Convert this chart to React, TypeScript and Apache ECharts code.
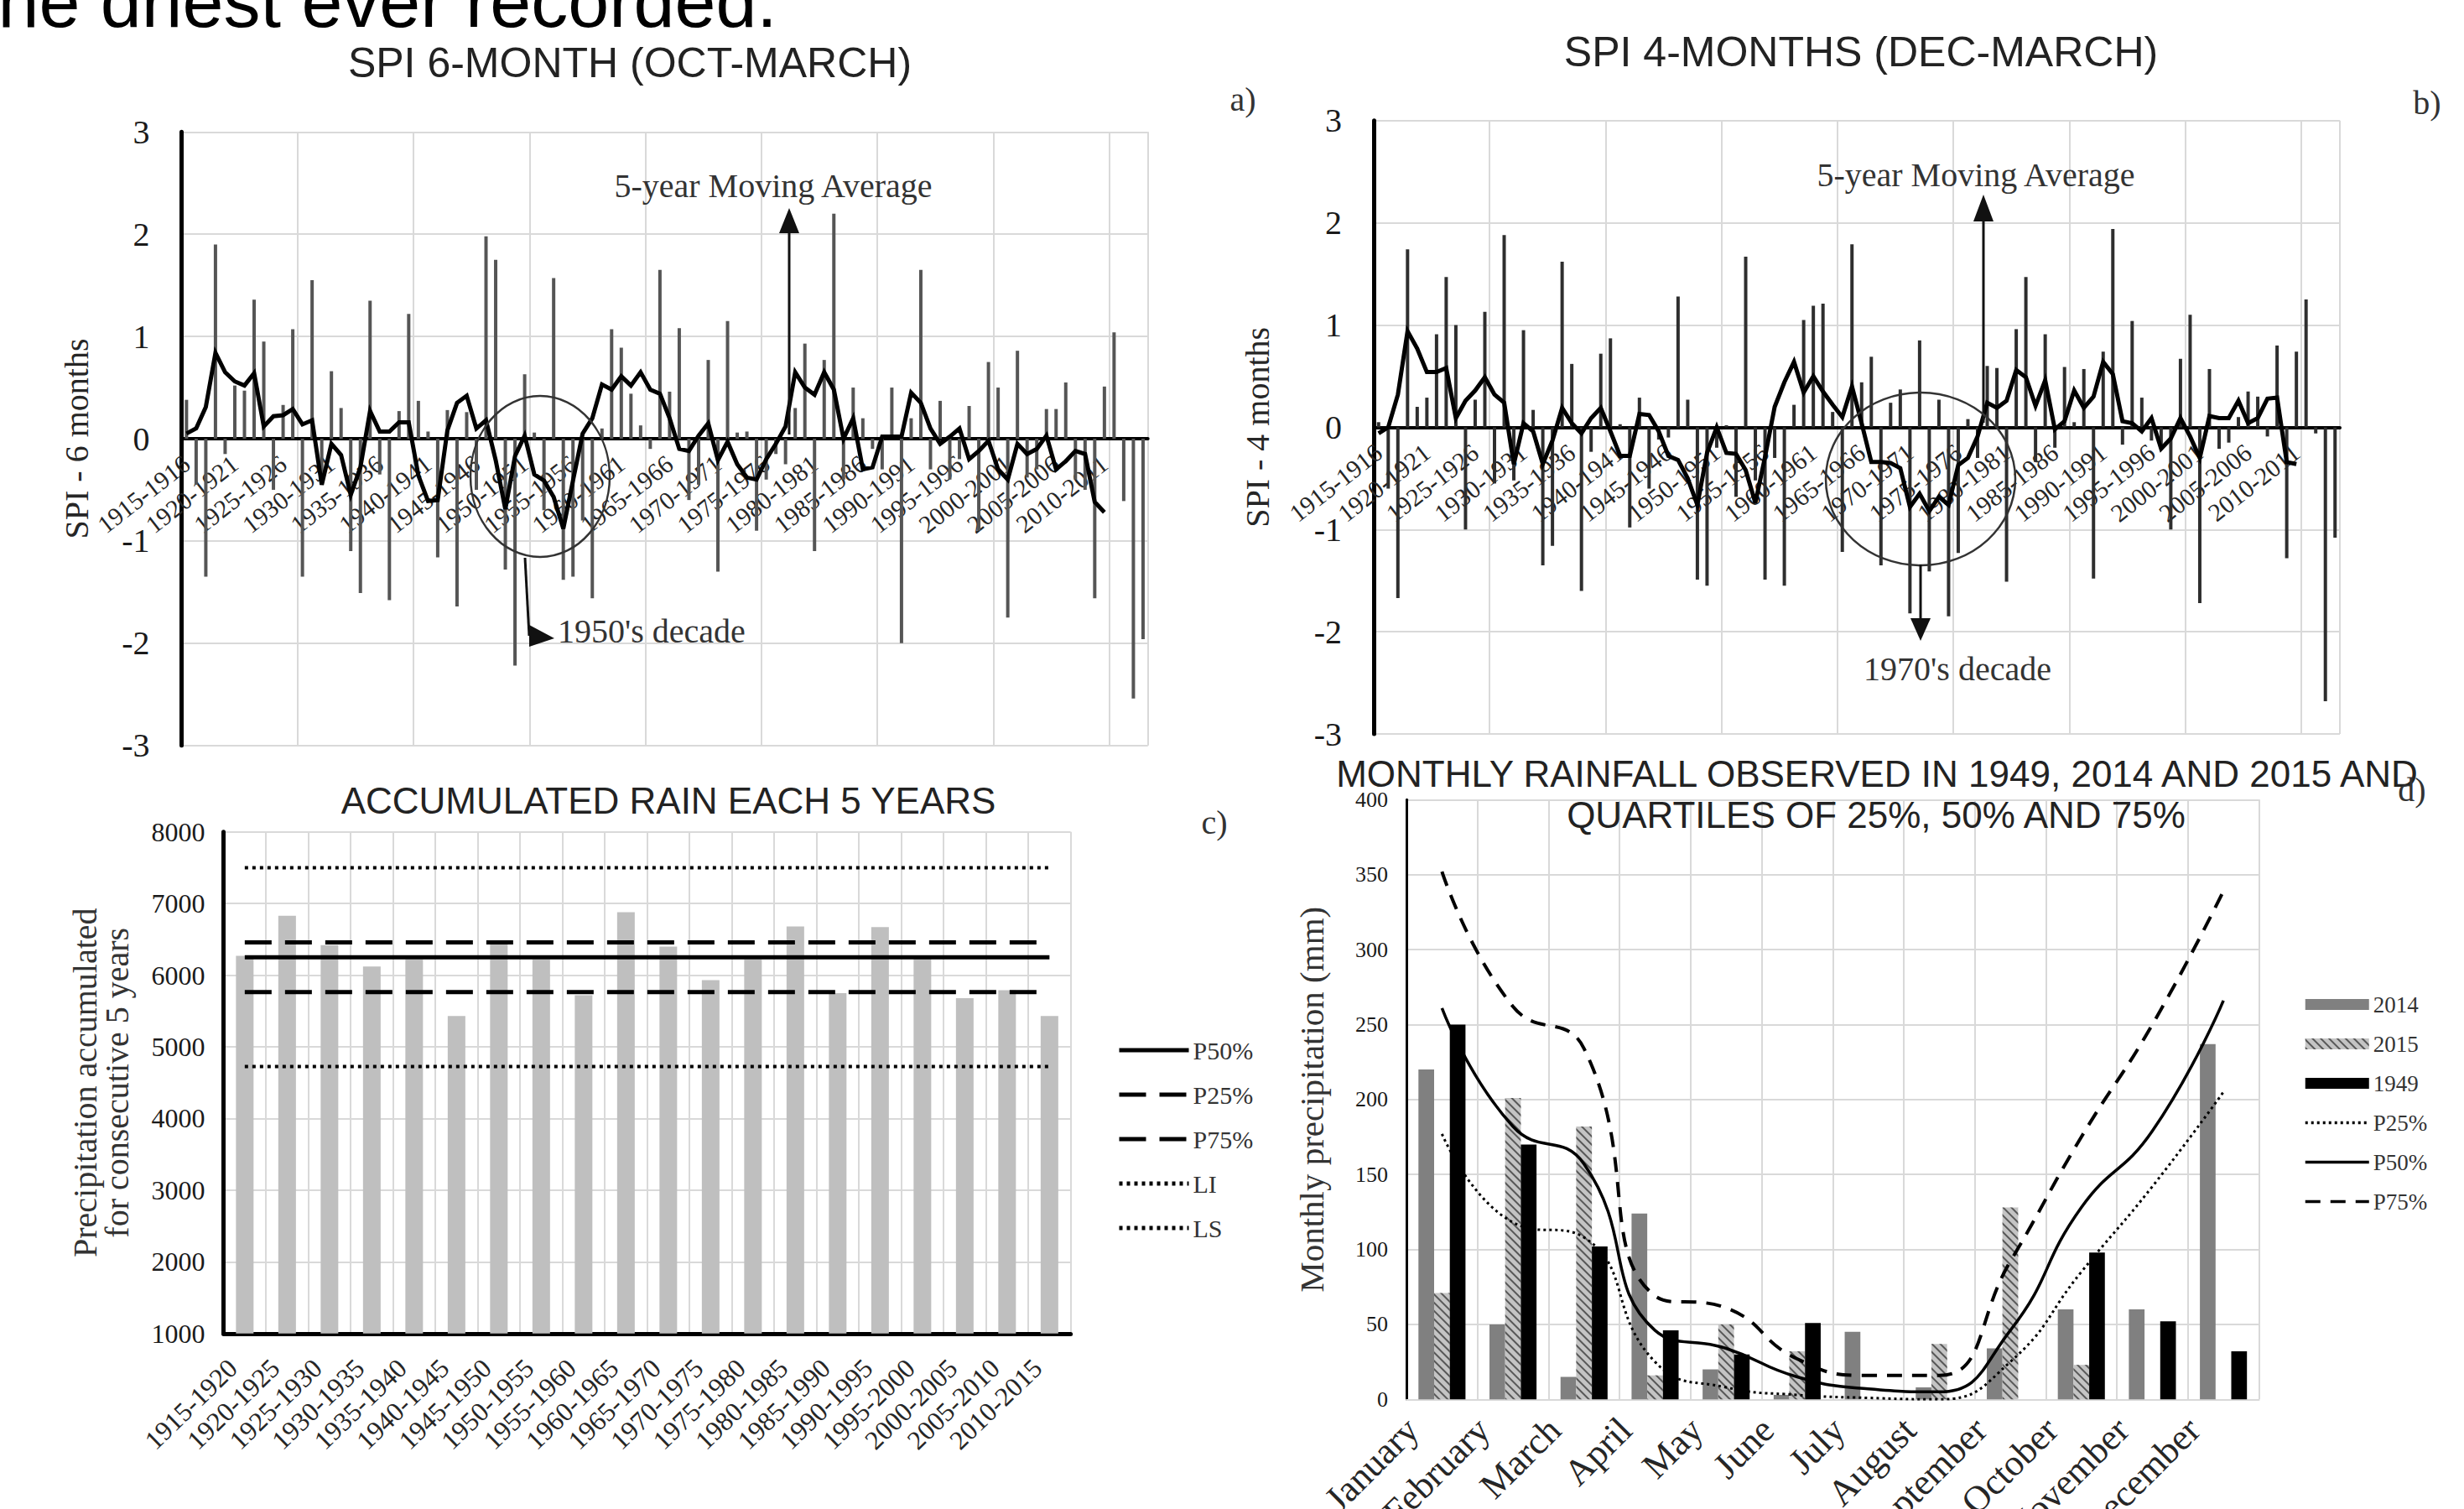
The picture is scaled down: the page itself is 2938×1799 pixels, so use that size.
import React, { useEffect, useRef } from "react";
import * as echarts from "echarts";

const SERIF = "'Liberation Serif', 'Times New Roman', serif";
const SANS = "'Liberation Sans', Arial, sans-serif";

// ---- Panel a / b : hydrological years 1915-1916 ... 2014-2015
const FIRST_YEAR = 1915;
const SEASON_COUNT = 100;
const SEASONS: string[] = Array.from({ length: SEASON_COUNT }, (_, i) => `${FIRST_YEAR + i}-${FIRST_YEAR + i + 1}`);

const SPI6 = [
  0.38, -0.45, -1.35, 1.9, -0.15, 0.52, 0.47, 1.36, 0.95, -0.5,
  0.33, 1.07, -1.35, 1.55, -0.45, 0.66, 0.3, -1.1, -1.51, 1.35,
  -0.35, -1.58, 0.27, 1.22, 0.37, 0.07, -1.16, 0.28, -1.64, 0.26,
  -0.5, 1.98, 1.75, -1.28, -2.22, 0.63, 0.06, -0.7, 1.57, -1.38,
  -1.35, -0.8, -1.56, 0.1, 1.07, 0.89, 0.44, 0.13, -0.1, 1.65,
  0.46, 1.08, -0.6, -0.45, 0.77, -1.3, 1.15, 0.06, 0.07, -0.9,
  -0.4, -0.15, -0.25, 0.3, 0.93, -1.1, 0.77, 2.2, -0.4, 0.5,
  0.2, -0.1, -0.3, 0.5, -2.0, 0.2, 1.65, -0.3, 0.37, -0.4,
  -0.2, 0.32, -0.9, 0.75, 0.5, -1.75, 0.86, -0.38, -0.3, 0.29,
  0.29, 0.55, -0.4, -0.5, -1.56, 0.51, 1.04, -0.61, -2.54, -1.96,
];

const SPI6_MA = [
  0.05, 0.1, 0.31, 0.84, 0.65, 0.56, 0.52, 0.64, 0.12, 0.22,
  0.23, 0.29, 0.14, 0.18, -0.45, -0.05, -0.16, -0.55, -0.28, 0.27,
  0.07, 0.07, 0.16, 0.16, -0.36, -0.61, -0.6, 0.08, 0.35, 0.42,
  0.1, 0.18, -0.21, -0.69, -0.17, 0.03, -0.35, -0.41, -0.57, -0.88,
  -0.41, 0.05, 0.2, 0.53, 0.48, 0.61, 0.52, 0.65, 0.48, 0.44,
  0.2, -0.1, -0.12, 0.03, 0.15, -0.21, -0.03, -0.25, -0.38, -0.4,
  -0.2, -0.05, 0.12, 0.65, 0.5, 0.43, 0.65, 0.48, 0.0, 0.2,
  -0.3, -0.28, 0.02, 0.02, 0.02, 0.45, 0.35, 0.1, -0.05, 0.02,
  0.1, -0.2, -0.12, -0.02, -0.3, -0.4, -0.05, -0.15, -0.1, 0.03,
  -0.3, -0.22, -0.12, -0.15, -0.62, -0.72,
];

const SPI4 = [
  0.05, -0.6, -1.67, 1.74, 0.2, 0.29, 0.91, 1.47, 1.0, -1.0,
  0.27, 1.13, -0.55, 1.88, -0.52, 0.95, 0.17, -1.35, -1.16, 1.62,
  0.62, -1.6, -0.24, 0.72, 0.87, 0.03, -0.98, 0.29, -0.6, -0.12,
  -0.1, 1.28, 0.27, -1.49, -1.55, -0.2, 0.02, -0.68, 1.67, -0.52,
  -1.49, -0.3, -1.55, 0.22, 1.05, 1.19, 1.21, 0.15, -1.22, 1.79,
  0.44, 0.69, -1.35, 0.24, 0.37, -1.82, 0.85, -1.41, 0.27, -1.85,
  -1.23, 0.08, -0.3, 0.6, 0.58, -1.51, 0.96, 1.47, -0.34, 0.91,
  -0.2, 0.59, 0.05, 0.57, -1.48, 0.74, 1.94, -0.17, 1.04, 0.29,
  -0.13, -0.2, -1.0, 0.67, 1.1, -1.72, 0.57, -0.21, -0.15, 0.1,
  0.35, 0.3, -0.09, 0.8, -1.28, 0.74, 1.25, -0.06, -2.68, -1.08,
];

const SPI4_MA = [
  -0.06, 0.0, 0.32, 0.94, 0.77, 0.54, 0.54, 0.58, 0.09, 0.26,
  0.36, 0.49, 0.32, 0.24, -0.36, 0.04, -0.04, -0.36, -0.13, 0.19,
  0.04, -0.06, 0.09, 0.19, -0.04, -0.28, -0.28, 0.13, 0.12, -0.04,
  -0.28, -0.32, -0.5, -0.76, -0.25, 0.0, -0.25, -0.26, -0.42, -0.74,
  -0.29, 0.2, 0.44, 0.64, 0.34, 0.5, 0.35, 0.22, 0.1, 0.4,
  0.04, -0.34, -0.34, -0.35, -0.4, -0.78, -0.65, -0.82, -0.68, -0.76,
  -0.37, -0.3, -0.09, 0.24, 0.19, 0.26, 0.56, 0.49, 0.21, 0.46,
  -0.02, 0.06, 0.36, 0.19, 0.3, 0.64, 0.52, 0.06, 0.04, -0.04,
  0.09, -0.21, -0.11, 0.09, -0.09, -0.3, 0.11, 0.09, 0.09, 0.26,
  0.04, 0.09, 0.28, 0.29, -0.34, -0.36,
];

// ---- Panel c
const PERIODS = [
  "1915-1920", "1920-1925", "1925-1930", "1930-1935", "1935-1940",
  "1940-1945", "1945-1950", "1950-1955", "1955-1960", "1960-1965",
  "1965-1970", "1970-1975", "1975-1980", "1980-1985", "1985-1990",
  "1990-1995", "1995-2000", "2000-2005", "2005-2010", "2010-2015",
];
const ACCUM = [
  6270, 6830, 6420, 6120, 6220, 5430, 6440, 6220, 5720, 6880,
  6400, 5930, 6220, 6680, 5750, 6670, 6250, 5680, 5790, 5430,
];
const ACC_P50 = 6250;
const ACC_P25 = 5765;
const ACC_P75 = 6456;
const ACC_LI = 4725;
const ACC_LS = 7500;

// ---- Panel d
const MONTHS = [
  "January", "February", "March", "April", "May", "June",
  "July", "August", "September", "October", "November", "December",
];
const R2014 = [220, 50, 15, 124, 20, 3, 45, 8, 34, 60, 60, 237];
const R2015 = [71, 201, 182, 16, 50, 32, 0, 37, 128, 23, 0, 0];
const R1949 = [250, 170, 102, 46, 30, 51, 0, 0, 0, 98, 52, 32];
const Q25 = [177, 118, 108, 25, 8, 3, 1, 0, 25, 85, 142, 205];
const Q50 = [261, 182, 157, 46, 34, 15, 7, 5, 46, 128, 179, 266];
const Q75 = [352, 262, 234, 69, 61, 27, 16, 16, 92, 175, 250, 339];

const GRID_LINE = { color: "#d9d9d9", width: 2 };
const LABEL_COLOR = "#262626";
const noComma = (v: number) => String(v);

function spiXAxis(gridIndex: number, zeroOffset: number) {
  return {
    type: "category",
    gridIndex,
    data: SEASONS,
    boundaryGap: true,
    position: "bottom",
    offset: zeroOffset,
    axisLine: { onZero: false, lineStyle: { color: "#000", width: 4 } },
    axisTick: { show: false },
    axisLabel: {
      interval: 4,
      rotate: 38,
      margin: 26,
      fontFamily: SERIF,
      fontSize: 30,
      color: LABEL_COLOR,
    },
    splitLine: {
      show: true,
      interval: (i: number) => i % 12 === 0,
      lineStyle: GRID_LINE,
    },
  };
}

function spiYAxis(gridIndex: number, name: string, nameGap: number) {
  return {
    type: "value",
    gridIndex,
    min: -3,
    max: 3,
    interval: 1,
    axisLine: { show: true, onZero: false, lineStyle: { color: "#000", width: 5 } },
    axisTick: { show: false },
    axisLabel: { fontFamily: SERIF, fontSize: 40, color: "#1a1a1a", margin: 38 },
    splitLine: { show: true, lineStyle: GRID_LINE },
    name,
    nameLocation: "middle",
    nameGap,
    nameTextStyle: { fontFamily: SERIF, fontSize: 40, color: LABEL_COLOR },
  };
}

function txt(text: string, x: number, y: number, size: number, family: string, align = "center", color = "#262626") {
  return {
    type: "text",
    x,
    y,
    z: 100,
    style: {
      text,
      fill: color,
      fontSize: size,
      fontFamily: family,
      align,
      verticalAlign: "middle",
    },
  };
}

function seg(x1: number, y1: number, x2: number, y2: number, w = 3) {
  return { type: "line", z: 100, shape: { x1, y1, x2, y2 }, style: { stroke: "#111", lineWidth: w } };
}

function tri(points: number[][]) {
  return { type: "polygon", z: 100, shape: { points }, style: { fill: "#111" } };
}

const lineLegendItem = (name: string) => ({ name, itemStyle: { opacity: 0 } });

function buildOption() {
  const flat = (v: number) => PERIODS.map(() => v);
  const gridBase = { containLabel: false, outerBoundsMode: "none" };
  return {
    animation: false,
    backgroundColor: "#ffffff",
    grid: [
      { ...gridBase, left: 216.6, top: 157.3, width: 1152.1, height: 731.4 },
      { ...gridBase, left: 1638, top: 143.8, width: 1152, height: 731.2 },
      { ...gridBase, left: 266.6, top: 991.7, width: 1010, height: 598.1 },
      { ...gridBase, left: 1677, top: 953.3, width: 1016.5, height: 715 },
    ],
    xAxis: [
      spiXAxis(0, -365.7),
      spiXAxis(1, -365.6),
      {
        type: "category",
        gridIndex: 2,
        data: PERIODS,
        axisLine: { onZero: false, lineStyle: { color: "#000", width: 5 } },
        axisTick: { show: false },
        axisLabel: { interval: 0, rotate: 44, margin: 22, padding: [0, 20, 0, 0], fontFamily: SERIF, fontSize: 32, color: LABEL_COLOR },
        splitLine: { show: true, interval: 0, lineStyle: GRID_LINE },
      },
      {
        type: "category",
        gridIndex: 3,
        data: MONTHS,
        axisLine: { onZero: false, lineStyle: { color: "#d9d9d9", width: 2 } },
        axisTick: { show: false },
        axisLabel: { interval: 0, rotate: 45, margin: -6, padding: [0, 50, 0, 0], fontFamily: SERIF, fontSize: 44, color: LABEL_COLOR },
        splitLine: { show: true, interval: 0, lineStyle: GRID_LINE },
      },
    ],
    yAxis: [
      spiYAxis(0, "SPI - 6 months", 105),
      spiYAxis(1, "SPI - 4 months", 119),
      {
        type: "value",
        gridIndex: 2,
        min: 1000,
        max: 8000,
        interval: 1000,
        axisLine: { show: true, lineStyle: { color: "#000", width: 5 } },
        axisTick: { show: false },
        axisLabel: { formatter: noComma, fontFamily: SERIF, fontSize: 32, color: "#1a1a1a", margin: 22 },
        splitLine: { show: true, lineStyle: GRID_LINE },
        name: "Precipitation accumulated\nfor consecutive 5 years",
        nameLocation: "middle",
        nameGap: 108,
        nameTextStyle: { fontFamily: SERIF, fontSize: 40, lineHeight: 38, color: "#333" },
      },
      {
        type: "value",
        gridIndex: 3,
        min: 0,
        max: 400,
        interval: 50,
        axisLine: { show: true, lineStyle: { color: "#000", width: 3 } },
        axisTick: { show: false },
        axisLabel: { formatter: noComma, fontFamily: SERIF, fontSize: 26, color: "#1a1a1a", margin: 22 },
        splitLine: { show: true, lineStyle: GRID_LINE },
        name: "Monthly precipitation (mm)",
        nameLocation: "middle",
        nameGap: 93,
        nameTextStyle: { fontFamily: SERIF, fontSize: 41, color: "#333" },
      },
    ],
    legend: [
      {
        data: ["P50%", "P25%", "P75%", "LI", "LS"].map(lineLegendItem),
        orient: "vertical",
        left: 1327,
        top: 1232,
        itemWidth: 83,
        itemHeight: 14,
        itemGap: 23,
        selectedMode: false,
        lineStyle: { width: 5 },
        textStyle: { fontFamily: SERIF, fontSize: 30, color: "#333" },
      },
      {
        data: [
          { name: "2014", icon: "rect" },
          { name: "2015", icon: "rect" },
          { name: "1949", icon: "rect" },
          lineLegendItem("P25% "),
          lineLegendItem("P50% "),
          lineLegendItem("P75% "),
        ],
        orient: "vertical",
        left: 2742,
        top: 1179,
        itemWidth: 76,
        itemHeight: 13,
        itemGap: 20,
        selectedMode: false,
        lineStyle: { width: 3.5 },
        textStyle: { fontFamily: SERIF, fontSize: 27, color: "#333" },
      },
    ],
    series: [
      // panel a
      { type: "bar", name: "SPI 6 months", xAxisIndex: 0, yAxisIndex: 0, data: SPI6, barWidth: 4, itemStyle: { color: "#555" }, z: 2 },
      {
        type: "line", name: "5-year Moving Average (SPI 6)", xAxisIndex: 0, yAxisIndex: 0, data: SPI6_MA,
        symbol: "none", itemStyle: { color: "#000" }, lineStyle: { color: "#000", width: 5, join: "miter" }, z: 3,
      },
      // panel b
      { type: "bar", name: "SPI 4 months", xAxisIndex: 1, yAxisIndex: 1, data: SPI4, barWidth: 4, itemStyle: { color: "#2e2e2e" }, z: 2 },
      {
        type: "line", name: "5-year Moving Average (SPI 4)", xAxisIndex: 1, yAxisIndex: 1, data: SPI4_MA,
        symbol: "none", itemStyle: { color: "#000" }, lineStyle: { color: "#000", width: 5, join: "miter" }, z: 3,
      },
      // panel c
      { type: "bar", name: "Accumulated 5 years", xAxisIndex: 2, yAxisIndex: 2, data: ACCUM, barWidth: 21, itemStyle: { color: "#bfbfbf" }, z: 2 },
      { type: "line", name: "P50%", xAxisIndex: 2, yAxisIndex: 2, data: flat(ACC_P50), symbol: "none", itemStyle: { color: "#000" }, lineStyle: { color: "#000", width: 5 }, z: 3 },
      { type: "line", name: "P25%", xAxisIndex: 2, yAxisIndex: 2, data: flat(ACC_P25), symbol: "none", itemStyle: { color: "#000" }, lineStyle: { color: "#000", width: 5, type: [32, 16] }, z: 3 },
      { type: "line", name: "P75%", xAxisIndex: 2, yAxisIndex: 2, data: flat(ACC_P75), symbol: "none", itemStyle: { color: "#000" }, lineStyle: { color: "#000", width: 5, type: [32, 16] }, z: 3 },
      { type: "line", name: "LI", xAxisIndex: 2, yAxisIndex: 2, data: flat(ACC_LI), symbol: "none", itemStyle: { color: "#000" }, lineStyle: { color: "#000", width: 4, type: [4, 5] }, z: 3 },
      { type: "line", name: "LS", xAxisIndex: 2, yAxisIndex: 2, data: flat(ACC_LS), symbol: "none", itemStyle: { color: "#000" }, lineStyle: { color: "#000", width: 4, type: [4, 5] }, z: 3 },
      // panel d
      { type: "bar", name: "2014", xAxisIndex: 3, yAxisIndex: 3, data: R2014, barWidth: 18.7, barGap: "0%", itemStyle: { color: "#808080" }, z: 2 },
      {
        type: "bar", name: "2015", xAxisIndex: 3, yAxisIndex: 3, data: R2015, barWidth: 18.7, barGap: "0%",
        itemStyle: {
          color: "#c4c4c4",
          decal: {
            symbol: "rect",
            symbolSize: 1,
            color: "rgba(50,50,50,0.75)",
            dashArrayX: [1, 0],
            dashArrayY: [2, 5],
            rotation: Math.PI / 4,
          },
        },
        z: 2,
      },
      { type: "bar", name: "1949", xAxisIndex: 3, yAxisIndex: 3, data: R1949, barWidth: 18.7, barGap: "0%", itemStyle: { color: "#000" }, z: 2 },
      { type: "line", name: "P25% ", xAxisIndex: 3, yAxisIndex: 3, data: Q25, smooth: 0.5, symbol: "none", itemStyle: { color: "#000" }, lineStyle: { color: "#000", width: 3, type: [3, 4] }, z: 3 },
      { type: "line", name: "P50% ", xAxisIndex: 3, yAxisIndex: 3, data: Q50, smooth: 0.5, symbol: "none", itemStyle: { color: "#000" }, lineStyle: { color: "#000", width: 3.5 }, z: 3 },
      { type: "line", name: "P75% ", xAxisIndex: 3, yAxisIndex: 3, data: Q75, smooth: 0.5, symbol: "none", itemStyle: { color: "#000" }, lineStyle: { color: "#000", width: 4, type: [18, 12] }, z: 3 },
    ],
    graphic: [
      txt("the driest ever recorded.", -27, 1, 88, SANS, "left", "#000"),
      txt("SPI 6-MONTH (OCT-MARCH)", 751, 75, 50, SANS, "center", "#222"),
      txt("SPI 4-MONTHS (DEC-MARCH)", 2219, 62, 50, SANS, "center", "#222"),
      txt("ACCUMULATED RAIN EACH 5 YEARS", 797, 954, 44, SANS, "center", "#222"),
      txt("MONTHLY RAINFALL OBSERVED IN 1949, 2014 AND 2015 AND", 2238, 922, 44, SANS, "center", "#222"),
      txt("QUARTILES OF 25%, 50% AND 75%", 2237, 971, 44, SANS, "center", "#222"),
      txt("a)", 1482, 118, 40, SERIF, "center", "#333"),
      txt("b)", 2894, 122, 40, SERIF, "center", "#333"),
      txt("c)", 1448, 980, 40, SERIF, "center", "#333"),
      txt("d)", 2876, 941, 40, SERIF, "center", "#333"),
      // panel a annotations
      txt("5-year Moving Average", 922, 221, 40, SERIF, "center", "#333"),
      seg(941, 518, 941, 272),
      tri([[929, 278], [953, 278], [941, 248]]),
      { type: "ellipse", z: 100, shape: { cx: 644, cy: 568, rx: 83, ry: 96 }, style: { fill: "none", stroke: "#333", lineWidth: 2.5 } },
      seg(626, 665, 631, 758),
      tri([[631, 745], [661, 761], [631, 771]]),
      txt("1950's decade", 665, 752, 40, SERIF, "left", "#333"),
      // panel b annotations
      txt("5-year Moving Average", 2356, 208, 40, SERIF, "center", "#333"),
      seg(2365, 504, 2365, 262),
      tri([[2353, 264], [2377, 264], [2365, 232]]),
      { type: "ellipse", z: 100, shape: { cx: 2290, cy: 571, rx: 113, ry: 103 }, style: { fill: "none", stroke: "#333", lineWidth: 2.5 } },
      seg(2290, 673, 2290, 738),
      tri([[2278, 737], [2302, 737], [2290, 764]]),
      txt("1970's decade", 2334, 797, 40, SERIF, "center", "#333"),
    ],
  };
}

export default function App() {
  const ref = useRef<HTMLDivElement>(null);
  useEffect(() => {
    if (!ref.current) return;
    const chart = echarts.init(ref.current, undefined, { renderer: "svg" });
    chart.setOption(buildOption() as any);
    return () => chart.dispose();
  }, []);
  return (
    <div
      ref={ref}
      style={{ position: "absolute", left: 0, top: 0, width: 2938, height: 1799, background: "#fff" }}
    />
  );
}
